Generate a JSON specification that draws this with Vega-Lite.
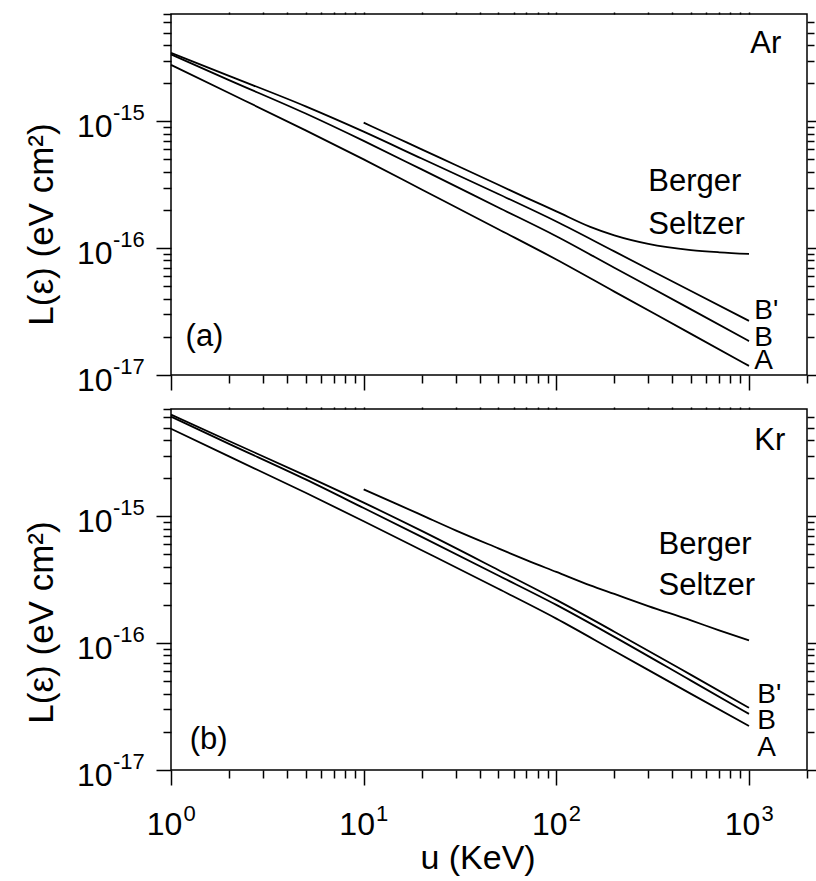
{
  "$schema": "https://vega.github.io/schema/vega-lite/v6.json",
  "background": "white",
  "padding": {"left": 23, "top": 10, "right": 0, "bottom": 0},
  "datasets": {
    "ar": [
      {"c": "B'", "u": 1, "L": 3.46e-15}, {"c": "B'", "u": 2, "L": 2.28e-15}, {"c": "B'", "u": 5, "L": 1.31e-15}, {"c": "B'", "u": 10, "L": 8.28e-16}, {"c": "B'", "u": 20, "L": 5.08e-16}, {"c": "B'", "u": 50, "L": 2.67e-16}, {"c": "B'", "u": 100, "L": 1.62e-16}, {"c": "B'", "u": 200, "L": 9.42e-17}, {"c": "B'", "u": 500, "L": 4.59e-17}, {"c": "B'", "u": 1000, "L": 2.67e-17},
      {"c": "B", "u": 1, "L": 3.36e-15}, {"c": "B", "u": 2, "L": 2.11e-15}, {"c": "B", "u": 5, "L": 1.15e-15}, {"c": "B", "u": 10, "L": 7.0e-16}, {"c": "B", "u": 20, "L": 4.17e-16}, {"c": "B", "u": 50, "L": 2.09e-16}, {"c": "B", "u": 100, "L": 1.24e-16}, {"c": "B", "u": 200, "L": 7.0e-17}, {"c": "B", "u": 500, "L": 3.29e-17}, {"c": "B", "u": 1000, "L": 1.85e-17},
      {"c": "A", "u": 1, "L": 2.78e-15}, {"c": "A", "u": 2, "L": 1.67e-15}, {"c": "A", "u": 5, "L": 8.47e-16}, {"c": "A", "u": 10, "L": 5.0e-16}, {"c": "A", "u": 20, "L": 2.9e-16}, {"c": "A", "u": 50, "L": 1.41e-16}, {"c": "A", "u": 100, "L": 8.13e-17}, {"c": "A", "u": 200, "L": 4.54e-17}, {"c": "A", "u": 500, "L": 2.11e-17}, {"c": "A", "u": 1000, "L": 1.18e-17},
      {"c": "BS", "u": 10, "L": 9.75e-16}, {"c": "BS", "u": 15, "L": 7.34e-16}, {"c": "BS", "u": 20, "L": 6.0e-16}, {"c": "BS", "u": 30, "L": 4.52e-16}, {"c": "BS", "u": 50, "L": 3.16e-16}, {"c": "BS", "u": 70, "L": 2.49e-16}, {"c": "BS", "u": 100, "L": 1.95e-16}, {"c": "BS", "u": 150, "L": 1.47e-16}, {"c": "BS", "u": 200, "L": 1.26e-16}, {"c": "BS", "u": 300, "L": 1.08e-16}, {"c": "BS", "u": 500, "L": 9.66e-17}, {"c": "BS", "u": 700, "L": 9.27e-17}, {"c": "BS", "u": 1000, "L": 8.99e-17}
    ],
    "kr": [
      {"c": "B'", "u": 1, "L": 6.32e-15}, {"c": "B'", "u": 2, "L": 3.92e-15}, {"c": "B'", "u": 5, "L": 2.09e-15}, {"c": "B'", "u": 10, "L": 1.28e-15}, {"c": "B'", "u": 20, "L": 7.66e-16}, {"c": "B'", "u": 50, "L": 3.77e-16}, {"c": "B'", "u": 100, "L": 2.19e-16}, {"c": "B'", "u": 200, "L": 1.23e-16}, {"c": "B'", "u": 500, "L": 5.62e-17}, {"c": "B'", "u": 1000, "L": 3.09e-17},
      {"c": "B", "u": 1, "L": 6.09e-15}, {"c": "B", "u": 2, "L": 3.72e-15}, {"c": "B", "u": 5, "L": 1.95e-15}, {"c": "B", "u": 10, "L": 1.16e-15}, {"c": "B", "u": 20, "L": 6.87e-16}, {"c": "B", "u": 50, "L": 3.41e-16}, {"c": "B", "u": 100, "L": 2.0e-16}, {"c": "B", "u": 200, "L": 1.12e-16}, {"c": "B", "u": 500, "L": 5.06e-17}, {"c": "B", "u": 1000, "L": 2.77e-17},
      {"c": "A", "u": 1, "L": 4.89e-15}, {"c": "A", "u": 2, "L": 2.96e-15}, {"c": "A", "u": 5, "L": 1.53e-15}, {"c": "A", "u": 10, "L": 9.14e-16}, {"c": "A", "u": 20, "L": 5.4e-16}, {"c": "A", "u": 50, "L": 2.68e-16}, {"c": "A", "u": 100, "L": 1.56e-16}, {"c": "A", "u": 200, "L": 8.67e-17}, {"c": "A", "u": 500, "L": 3.98e-17}, {"c": "A", "u": 1000, "L": 2.22e-17},
      {"c": "BS", "u": 10, "L": 1.63e-15}, {"c": "BS", "u": 15, "L": 1.24e-15}, {"c": "BS", "u": 20, "L": 1.02e-15}, {"c": "BS", "u": 30, "L": 7.74e-16}, {"c": "BS", "u": 50, "L": 5.58e-16}, {"c": "BS", "u": 70, "L": 4.51e-16}, {"c": "BS", "u": 100, "L": 3.64e-16}, {"c": "BS", "u": 150, "L": 2.85e-16}, {"c": "BS", "u": 200, "L": 2.44e-16}, {"c": "BS", "u": 300, "L": 1.96e-16}, {"c": "BS", "u": 500, "L": 1.51e-16}, {"c": "BS", "u": 700, "L": 1.26e-16}, {"c": "BS", "u": 1000, "L": 1.05e-16}
    ],
    "ar_txt": [
      {"t": "Ar", "u": 1016, "L": 3.42e-15},
      {"t": "Berger", "u": 300, "L": 2.83e-16},
      {"t": "Seltzer", "u": 300, "L": 1.3e-16},
      {"t": "(a)", "u": 1.19, "L": 1.69e-17}
    ],
    "ar_end": [
      {"t": "B'", "u": 1066, "L": 2.77e-17},
      {"t": "B", "u": 1066, "L": 1.69e-17},
      {"t": "A", "u": 1066, "L": 1.11e-17}
    ],
    "kr_txt": [
      {"t": "Kr", "u": 1066, "L": 3.33e-15},
      {"t": "Berger", "u": 339, "L": 5.07e-16},
      {"t": "Seltzer", "u": 339, "L": 2.41e-16},
      {"t": "(b)", "u": 1.25, "L": 1.46e-17}
    ],
    "kr_end": [
      {"t": "B'", "u": 1105, "L": 3.36e-17},
      {"t": "B", "u": 1105, "L": 2.1e-17},
      {"t": "A", "u": 1105, "L": 1.29e-17}
    ]
  },
  "bounds": "flush",
  "spacing": 34,
  "vconcat": [
    {
      "width": 636,
      "height": 361,
      "layer": [
        {
          "data": {"name": "ar"},
          "mark": {"type": "line", "stroke": "black", "strokeWidth": 1.8, "interpolate": "monotone"},
          "encoding": {
            "x": {"field": "u", "type": "quantitative", "scale": {"type": "log", "domain": [1, 2000], "nice": false},
              "axis": {"orient": "bottom", "values": [1, 10, 100, 1000], "tickSize": 15, "labels": false, "title": null}},
            "y": {"field": "L", "type": "quantitative", "scale": {"type": "log", "domain": [1e-17, 7e-15], "nice": false},
              "axis": {"orient": "left", "values": [1e-17, 1e-16, 1e-15], "tickSize": 15, "labelExpr": "'10'", "labelAlign": "right", "labelBaseline": "middle", "labelPadding": 44, "labelOffset": 5, "labelFontSize": 32,
                "title": "L(ε) (eV cm²)", "titleFontSize": 35, "titleAngle": 270, "titleAlign": "center", "titleBaseline": "alphabetic", "titleX": -119, "titleY": 210}},
            "detail": {"field": "c"}
          }
        },
        {
          "data": {"name": "ar_txt"},
          "mark": {"type": "text", "align": "left", "baseline": "alphabetic", "fontSize": 31, "font": "Liberation Sans", "color": "black"},
          "encoding": {
            "x": {"field": "u", "type": "quantitative", "scale": {"type": "log", "domain": [1, 2000], "nice": false}, "axis": null},
            "y": {"field": "L", "type": "quantitative", "scale": {"type": "log", "domain": [1e-17, 7e-15], "nice": false},
              "axis": {"orient": "left", "values": [1e-17, 1e-16, 1e-15], "ticks": false, "tickSize": 0, "labelExpr": "datum.value < 5e-17 ? '-17' : datum.value < 5e-16 ? '-16' : '-15'", "labelAlign": "left", "labelBaseline": "middle", "labelPadding": 58.5, "labelOffset": -9, "labelFontSize": 22, "title": null}},
            "text": {"field": "t"}
          }
        },
        {
          "data": {"name": "ar_end"},
          "mark": {"type": "text", "align": "left", "baseline": "alphabetic", "fontSize": 28, "font": "Liberation Sans", "color": "black"},
          "encoding": {
            "x": {"field": "u", "type": "quantitative", "scale": {"type": "log", "domain": [1, 2000], "nice": false}, "axis": null},
            "y": {"field": "L", "type": "quantitative", "scale": {"type": "log", "domain": [1e-17, 7e-15], "nice": false}, "axis": null},
            "text": {"field": "t"}
          }
        },
        {
          "data": {"name": "ar"},
          "mark": {"type": "line", "strokeOpacity": 0},
          "encoding": {
            "x": {"field": "u", "type": "quantitative", "scale": {"type": "log", "domain": [1, 2000], "nice": false},
              "axis": {"orient": "bottom", "values": [2, 3, 4, 5, 6, 7, 8, 9, 20, 30, 40, 50, 60, 70, 80, 90, 200, 300, 400, 500, 600, 700, 800, 900, 2000], "tickSize": 8, "labels": false, "title": null}},
            "y": {"field": "L", "type": "quantitative", "scale": {"type": "log", "domain": [1e-17, 7e-15], "nice": false},
              "axis": {"orient": "left", "values": [2e-17, 3e-17, 4e-17, 5e-17, 6e-17, 7e-17, 8e-17, 9e-17, 2e-16, 3e-16, 4e-16, 5e-16, 6e-16, 7e-16, 8e-16, 9e-16, 2e-15, 3e-15, 4e-15, 5e-15, 6e-15, 7e-15], "tickSize": 8, "labels": false, "title": null}},
            "detail": {"field": "c"}
          }
        },
        {
          "data": {"name": "ar"},
          "mark": {"type": "line", "strokeOpacity": 0},
          "encoding": {
            "x": {"field": "u", "type": "quantitative", "scale": {"type": "log", "domain": [1, 2000], "nice": false},
              "axis": {"orient": "top", "values": [2, 3, 4, 5, 6, 7, 8, 9, 10, 20, 30, 40, 50, 60, 70, 80, 90, 100, 200, 300, 400, 500, 600, 700, 800, 900, 1000], "tickSize": 2, "labels": false, "title": null}},
            "y": {"field": "L", "type": "quantitative", "scale": {"type": "log", "domain": [1e-17, 7e-15], "nice": false},
              "axis": {"orient": "right", "values": [1e-17, 1e-16, 1e-15], "tickSize": 9, "labels": false, "title": null}},
            "detail": {"field": "c"}
          }
        },
        {
          "data": {"name": "ar"},
          "mark": {"type": "line", "strokeOpacity": 0},
          "encoding": {
            "x": {"field": "u", "type": "quantitative", "scale": {"type": "log", "domain": [1, 2000], "nice": false}, "axis": null},
            "y": {"field": "L", "type": "quantitative", "scale": {"type": "log", "domain": [1e-17, 7e-15], "nice": false},
              "axis": {"orient": "right", "values": [2e-17, 3e-17, 4e-17, 5e-17, 6e-17, 7e-17, 8e-17, 9e-17, 2e-16, 3e-16, 4e-16, 5e-16, 6e-16, 7e-16, 8e-16, 9e-16, 2e-15, 3e-15, 4e-15, 5e-15, 6e-15], "tickSize": 7, "labels": false, "title": null}},
            "detail": {"field": "c"}
          }
        }
      ],
      "resolve": {"axis": {"x": "independent", "y": "independent"}}
    },
    {
      "width": 636,
      "height": 361,
      "layer": [
        {
          "data": {"name": "kr"},
          "mark": {"type": "line", "stroke": "black", "strokeWidth": 1.8, "interpolate": "monotone"},
          "encoding": {
            "x": {"field": "u", "type": "quantitative", "scale": {"type": "log", "domain": [1, 2000], "nice": false},
              "axis": {"orient": "bottom", "values": [1, 10, 100, 1000], "tickSize": 15, "labelExpr": "'10'", "labelAlign": "center", "labelBaseline": "top", "labelPadding": 24, "labelOffset": -7, "labelFontSize": 32,
                "title": "u (KeV)", "titleFontSize": 34, "titleAlign": "center", "titleBaseline": "alphabetic", "titleX": 306.5, "titleY": 98}},
            "y": {"field": "L", "type": "quantitative", "scale": {"type": "log", "domain": [1e-17, 7e-15], "nice": false},
              "axis": {"orient": "left", "values": [1e-17, 1e-16, 1e-15], "tickSize": 15, "labelExpr": "'10'", "labelAlign": "right", "labelBaseline": "middle", "labelPadding": 44, "labelOffset": 5, "labelFontSize": 32,
                "title": "L(ε) (eV cm²)", "titleFontSize": 35, "titleAngle": 270, "titleAlign": "center", "titleBaseline": "alphabetic", "titleX": -119, "titleY": 213}},
            "detail": {"field": "c"}
          }
        },
        {
          "data": {"name": "kr_txt"},
          "mark": {"type": "text", "align": "left", "baseline": "alphabetic", "fontSize": 31, "font": "Liberation Sans", "color": "black"},
          "encoding": {
            "x": {"field": "u", "type": "quantitative", "scale": {"type": "log", "domain": [1, 2000], "nice": false},
              "axis": {"orient": "bottom", "values": [1, 10, 100, 1000], "ticks": false, "tickSize": 0, "labelExpr": "datum.value < 5 ? '0' : datum.value < 50 ? '1' : datum.value < 500 ? '2' : '3'", "labelAlign": "center", "labelBaseline": "top", "labelPadding": 33, "labelOffset": 18, "labelFontSize": 22, "title": null}},
            "y": {"field": "L", "type": "quantitative", "scale": {"type": "log", "domain": [1e-17, 7e-15], "nice": false},
              "axis": {"orient": "left", "values": [1e-17, 1e-16, 1e-15], "ticks": false, "tickSize": 0, "labelExpr": "datum.value < 5e-17 ? '-17' : datum.value < 5e-16 ? '-16' : '-15'", "labelAlign": "left", "labelBaseline": "middle", "labelPadding": 58.5, "labelOffset": -9, "labelFontSize": 22, "title": null}},
            "text": {"field": "t"}
          }
        },
        {
          "data": {"name": "kr_end"},
          "mark": {"type": "text", "align": "left", "baseline": "alphabetic", "fontSize": 28, "font": "Liberation Sans", "color": "black"},
          "encoding": {
            "x": {"field": "u", "type": "quantitative", "scale": {"type": "log", "domain": [1, 2000], "nice": false}, "axis": null},
            "y": {"field": "L", "type": "quantitative", "scale": {"type": "log", "domain": [1e-17, 7e-15], "nice": false}, "axis": null},
            "text": {"field": "t"}
          }
        },
        {
          "data": {"name": "kr"},
          "mark": {"type": "line", "strokeOpacity": 0},
          "encoding": {
            "x": {"field": "u", "type": "quantitative", "scale": {"type": "log", "domain": [1, 2000], "nice": false},
              "axis": {"orient": "bottom", "values": [2, 3, 4, 5, 6, 7, 8, 9, 20, 30, 40, 50, 60, 70, 80, 90, 200, 300, 400, 500, 600, 700, 800, 900, 2000], "tickSize": 8, "labels": false, "title": null}},
            "y": {"field": "L", "type": "quantitative", "scale": {"type": "log", "domain": [1e-17, 7e-15], "nice": false},
              "axis": {"orient": "left", "values": [2e-17, 3e-17, 4e-17, 5e-17, 6e-17, 7e-17, 8e-17, 9e-17, 2e-16, 3e-16, 4e-16, 5e-16, 6e-16, 7e-16, 8e-16, 9e-16, 2e-15, 3e-15, 4e-15, 5e-15, 6e-15, 7e-15], "tickSize": 8, "labels": false, "title": null}},
            "detail": {"field": "c"}
          }
        },
        {
          "data": {"name": "kr"},
          "mark": {"type": "line", "strokeOpacity": 0},
          "encoding": {
            "x": {"field": "u", "type": "quantitative", "scale": {"type": "log", "domain": [1, 2000], "nice": false},
              "axis": {"orient": "top", "values": [2, 3, 4, 5, 6, 7, 8, 9, 10, 20, 30, 40, 50, 60, 70, 80, 90, 100, 200, 300, 400, 500, 600, 700, 800, 900, 1000], "tickSize": 2, "labels": false, "title": null}},
            "y": {"field": "L", "type": "quantitative", "scale": {"type": "log", "domain": [1e-17, 7e-15], "nice": false},
              "axis": {"orient": "right", "values": [1e-17, 1e-16, 1e-15], "tickSize": 9, "labels": false, "title": null}},
            "detail": {"field": "c"}
          }
        },
        {
          "data": {"name": "kr"},
          "mark": {"type": "line", "strokeOpacity": 0},
          "encoding": {
            "x": {"field": "u", "type": "quantitative", "scale": {"type": "log", "domain": [1, 2000], "nice": false}, "axis": null},
            "y": {"field": "L", "type": "quantitative", "scale": {"type": "log", "domain": [1e-17, 7e-15], "nice": false},
              "axis": {"orient": "right", "values": [2e-17, 3e-17, 4e-17, 5e-17, 6e-17, 7e-17, 8e-17, 9e-17, 2e-16, 3e-16, 4e-16, 5e-16, 6e-16, 7e-16, 8e-16, 9e-16, 2e-15, 3e-15, 4e-15, 5e-15, 6e-15], "tickSize": 7, "labels": false, "title": null}},
            "detail": {"field": "c"}
          }
        }
      ],
      "resolve": {"axis": {"x": "independent", "y": "independent"}}
    }
  ],
  "config": {
    "font": "Liberation Sans",
    "view": {"stroke": "black", "strokeWidth": 1.5},
    "axis": {"domain": false, "grid": false, "tickColor": "black", "tickWidth": 1.5, "labelColor": "black", "titleColor": "black", "labelFont": "Liberation Sans", "titleFont": "Liberation Sans", "titleFontWeight": "normal", "labelOverlap": false, "labelFlush": false, "labelBound": false}
  }
}
